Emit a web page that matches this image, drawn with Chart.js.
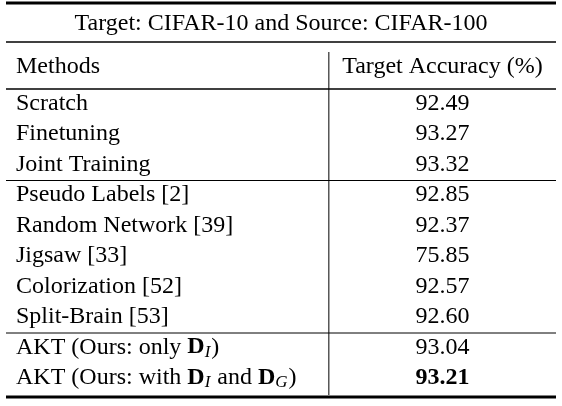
<!DOCTYPE html>
<html><head><meta charset="utf-8">
<script src="https://cdn.jsdelivr.net/npm/chart.js@4/dist/chart.umd.min.js"></script>
<style>html,body{margin:0;background:#fff}#w{width:562px;height:406px}</style>
</head><body><div id="w"><canvas id="c"></canvas></div>
<script>
const title = "Target: CIFAR-10 and Source: CIFAR-100";
const headers = ["Methods", "Target Accuracy (%)"];
const methods = ["Scratch","Finetuning","Joint Training","Pseudo Labels [2]","Random Network [39]","Jigsaw [33]","Colorization [52]","Split-Brain [53]","AKT (Ours: only D_I)","AKT (Ours: with D_I and D_G)"];
const accuracy = [92.49,93.27,93.32,92.85,92.37,75.85,92.57,92.60,93.04,93.21];
const groupBreaks = [3, 8];
const boldRow = 9;
const F = '"Liberation Serif", "DejaVu Serif", serif';

function drawRich(ctx, s, x, y, size) {
  const parts = s.split(/(D_[A-Z])/);
  for (const p of parts) {
    if (/^D_[A-Z]$/.test(p)) {
      ctx.font = 'bold ' + size + 'px ' + F;
      ctx.fillText('D', x, y); x += ctx.measureText('D').width;
      ctx.font = 'italic ' + Math.round(size*0.7) + 'px ' + F;
      ctx.fillText(p[2], x, y + 5); x += ctx.measureText(p[2]).width + 1;
    } else if (p) {
      ctx.font = size + 'px ' + F;
      ctx.fillText(p, x, y); x += ctx.measureText(p).width;
    }
  }
}

const tablePlugin = {
  id: 'table',
  afterDraw(chart) {
    const ctx = chart.ctx, ys = chart.scales.y, xs = chart.scales.x;
    const L = 6, R = 556, size = 24;
    const colX = xs.getPixelForValue(0.587);
    const pitch = Math.abs(ys.getPixelForValue(1) - ys.getPixelForValue(0));
    const top = ys.getPixelForValue(0) - pitch/2, bottom = ys.getPixelForValue(methods.length-1) + pitch/2;
    ctx.save();
    ctx.fillStyle = '#000'; ctx.strokeStyle = '#000';
    const hline = (y, w) => { ctx.lineWidth = w; ctx.beginPath(); ctx.moveTo(L, y); ctx.lineTo(R, y); ctx.stroke(); };
    hline(3, 3); hline(42, 1.5); hline(top + 1, 1.5); hline(bottom + 4, 3);
    groupBreaks.forEach(b => hline((ys.getPixelForValue(b-1) + ys.getPixelForValue(b))/2 + 1, 1));
    ctx.lineWidth = 1; ctx.beginPath(); ctx.moveTo(colX, 52); ctx.lineTo(colX, bottom + 2); ctx.stroke();
    ctx.textBaseline = 'middle';
    ctx.font = size + 'px ' + F; ctx.textAlign = 'center';
    ctx.fillText(title, (L+R)/2, 24);
    const rc = (colX + R)/2;
    ctx.textAlign = 'left'; ctx.fillText(headers[0], 16, 67);
    ctx.textAlign = 'center'; ctx.fillText(headers[1], rc, 67);
    methods.forEach((m, i) => {
      const y = ys.getPixelForValue(i);
      ctx.textAlign = 'left'; drawRich(ctx, m, 16, y, size);
      ctx.textAlign = 'center';
      ctx.font = (i === boldRow ? 'bold ' : '') + size + 'px ' + F;
      ctx.fillText(accuracy[i].toFixed(2), rc, y);
    });
    ctx.restore();
  }
};

new Chart(document.getElementById('c'), {
  type: 'scatter',
  data: { labels: methods, datasets: [{ data: [], pointRadius: 0 }] },
  options: {
    responsive: true, maintainAspectRatio: false, animation: false,
    layout: { padding: { top: 88, bottom: 13, left: 6, right: 6 } },
    plugins: { legend: { display: false }, tooltip: { enabled: false } },
    scales: {
      x: { type: 'linear', min: 0, max: 1, display: false },
      y: { type: 'category', labels: methods, offset: true, display: false }
    }
  },
  plugins: [tablePlugin]
});
</script></body></html>
